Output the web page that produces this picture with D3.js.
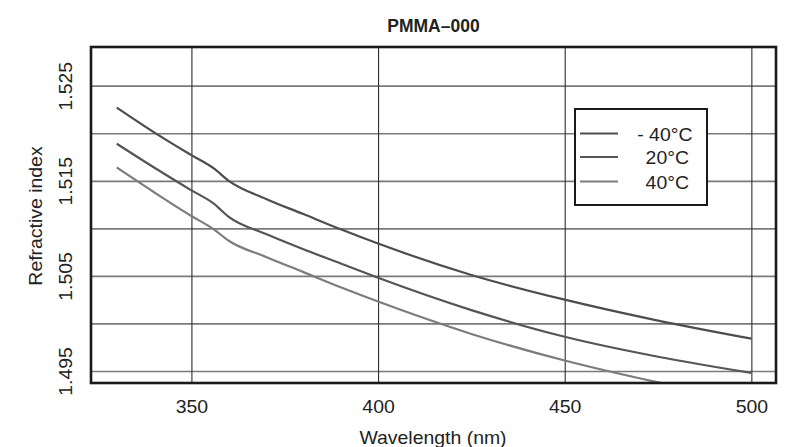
<!DOCTYPE html>
<html>
<head>
<meta charset="utf-8">
<script src="https://cdn.jsdelivr.net/npm/d3@7"></script>
<style>
  html, body { margin: 0; padding: 0; background: #ffffff; }
  svg { display: block; }
  text { font-family: "Liberation Sans", Arial, Helvetica, sans-serif; fill: #222; }
</style>
</head>
<body>
<svg id="chart" width="788" height="447"></svg>
<script>
// ---- data ----
const title = "PMMA\u2013000";
const xTickValues = [350, 400, 450, 500];
const yGridValues = [1.495, 1.500, 1.505, 1.510, 1.515, 1.520, 1.525];
const yTickValues = [1.495, 1.505, 1.515, 1.525];
const seriesNames = ["- 40\u00B0C", "20\u00B0C", "40\u00B0C"];
const seriesColors = ["#4d4d4d", "#555555", "#7c7c7c"];

const minus40 = [[330,1.5227],[340,1.5201],[350,1.5177],[356,1.5163],[360,1.5150],[370,1.5131],[380,1.5115],[390,1.5099],[400,1.5084],[425,1.5051],[450,1.5025],[475,1.5003],[500,1.4984]];
const plus20  = [[330,1.5189],[340,1.5164],[350,1.5140],[356,1.5126],[360,1.5112],[370,1.5094],[380,1.5078],[390,1.5063],[400,1.5048],[425,1.5014],[450,1.4986],[475,1.4965],[500,1.4948]];
const plus40  = [[330,1.5164],[340,1.5138],[350,1.5113],[356,1.5099],[360,1.5087],[370,1.5070],[380,1.5054],[390,1.5038],[400,1.5023],[425,1.4989],[450,1.4961],[475,1.4938],[500,1.4918]];
const allSeries = [minus40, plus20, plus40];

// ---- layout ----
const svg = d3.select("#chart");
const L = 91, R = 776, T = 47, B = 383;
const x = d3.scaleLinear().domain([323.1, 506.6]).range([L, R]);
const y = d3.scaleLinear().domain([1.49374, 1.52907]).range([B, T]);
const SX = 1.08;

svg.append("rect").attr("width", 788).attr("height", 447).attr("fill", "#ffffff");

// clip
svg.append("clipPath").attr("id", "plotclip")
  .append("rect").attr("x", L).attr("y", T).attr("width", R - L).attr("height", B - T);

// horizontal grid
const gy = svg.append("g").attr("transform", `translate(${L},0)`)
  .call(d3.axisLeft(y).tickValues(yGridValues).tickSize(-(R - L)).tickFormat(""));
gy.select(".domain").remove();
gy.selectAll(".tick line").attr("stroke", "#7a7a7a").attr("stroke-width", 1.7);

// vertical grid
const gx = svg.append("g").attr("transform", `translate(0,${B})`)
  .call(d3.axisBottom(x).tickValues(xTickValues).tickSize(-(B - T)).tickFormat(""));
gx.select(".domain").remove();
gx.selectAll(".tick line").attr("stroke", "#2e2e2e").attr("stroke-width", 1.1);

// curves
const line = d3.line().x(d => x(d[0])).y(d => y(d[1])).curve(d3.curveMonotoneX);
svg.append("g").attr("clip-path", "url(#plotclip)")
  .selectAll("path").data(allSeries).join("path")
  .attr("d", line)
  .attr("fill", "none")
  .attr("stroke", (d, i) => seriesColors[i])
  .attr("stroke-width", 2.2)
  .attr("stroke-linejoin", "round");

// frame
svg.append("rect").attr("x", L).attr("y", T).attr("width", R - L).attr("height", B - T)
  .attr("fill", "none").attr("stroke", "#1a1a1a").attr("stroke-width", 2.6);

// x axis labels
const ax = svg.append("g").attr("transform", `translate(0,${B})`)
  .call(d3.axisBottom(x).tickValues(xTickValues).tickSize(0).tickFormat(d3.format("d")));
ax.select(".domain").remove();
ax.selectAll(".tick text")
  .attr("y", 30).attr("dy", null)
  .attr("font-size", 18).attr("font-family", "Liberation Sans, Arial, sans-serif")
  .attr("fill", "#222")
  .attr("transform", `scale(${SX},1)`);

// y axis labels
const ay = svg.append("g").attr("transform", `translate(${L},0)`)
  .call(d3.axisLeft(y).tickValues(yTickValues).tickSize(0).tickFormat(d3.format(".3f")));
ay.select(".domain").remove();
ay.selectAll(".tick text")
  .attr("x", 0).attr("dy", null).attr("y", 0)
  .attr("text-anchor", "middle")
  .attr("font-size", 18).attr("font-family", "Liberation Sans, Arial, sans-serif")
  .attr("fill", "#222")
  .attr("transform", `translate(-19.5,0) rotate(-90) scale(${SX},1)`);

// title
svg.append("text").attr("x", 433.5).attr("y", 31.5).attr("text-anchor", "middle")
  .attr("font-size", 17.5).attr("font-weight", "bold").attr("fill", "#222").text(title);

// axis titles
svg.append("text").attr("text-anchor", "middle").attr("font-size", 18)
  .attr("transform", `translate(433,444) scale(${SX},1)`).text("Wavelength (nm)");
svg.append("text").attr("text-anchor", "middle").attr("font-size", 18)
  .attr("transform", `translate(42,216) rotate(-90) scale(${SX},1)`).text("Refractive index");

// legend
const lg = svg.append("g");
lg.append("rect").attr("x", 575).attr("y", 109).attr("width", 132).attr("height", 96)
  .attr("fill", "#ffffff").attr("stroke", "#1a1a1a").attr("stroke-width", 2);
const legendY = [133.5, 157, 181.5];
const legendTextX = [692.5, 689, 689];
seriesNames.forEach((name, i) => {
  lg.append("line").attr("x1", 580).attr("x2", 618).attr("y1", legendY[i]).attr("y2", legendY[i])
    .attr("stroke", seriesColors[i]).attr("stroke-width", 2.2);
  lg.append("text").attr("text-anchor", "end").attr("font-size", 18.5)
    .attr("transform", `translate(${legendTextX[i]},${legendY[i] + 7}) scale(1.05,1)`)
    .text(name);
});
</script>
</body>
</html>
